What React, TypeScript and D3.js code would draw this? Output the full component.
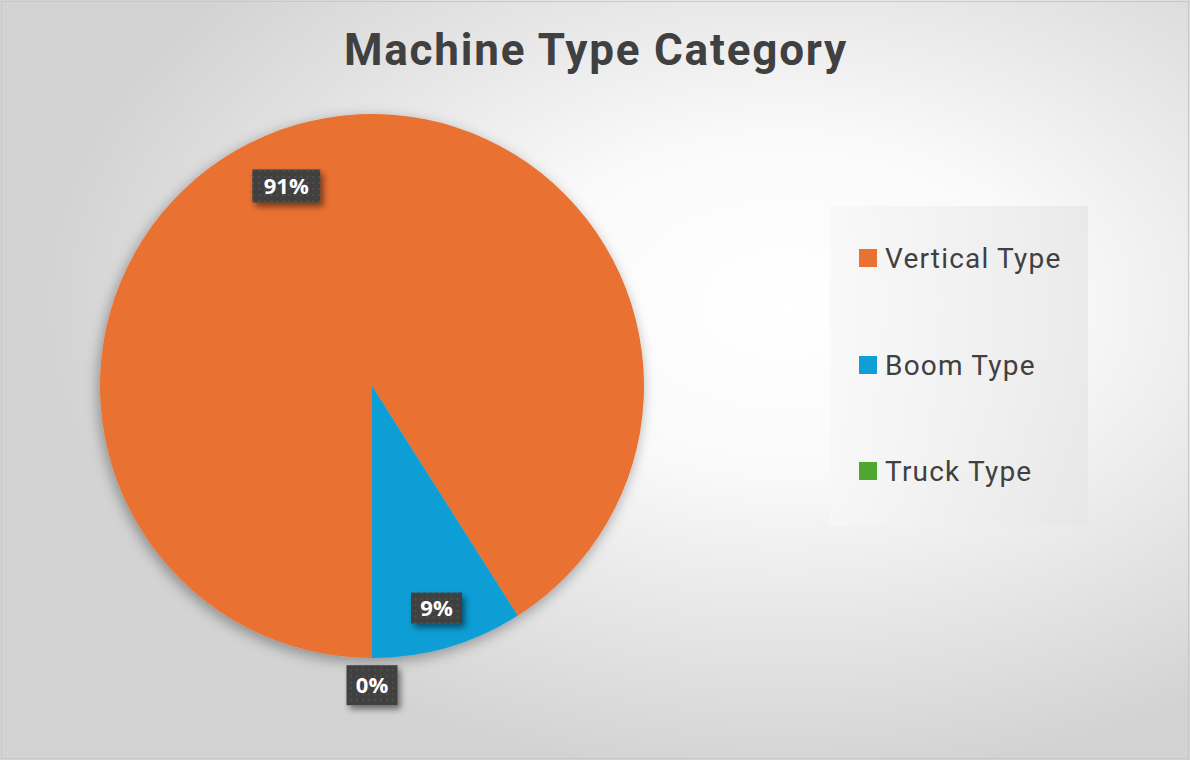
import React from 'react';
import { pie, arc, PieArcDatum } from 'd3';

const width = 1190;
const height = 760;

const categories = ['Vertical Type', 'Boom Type', 'Truck Type'];
const values = [91, 9, 0];
const colors = ['#E97132', '#0F9ED5', '#4EA72E'];

const cx = 372;
const cy = 386;
const radius = 272;

type Slice = PieArcDatum<number>;

const App = () => {
  const total = values.reduce((a, b) => a + b, 0);
  const arcs = pie<number>()
    .sort(null)
    .startAngle(Math.PI)
    .endAngle(Math.PI * 3)(values);

  const arcGen = arc<Slice>().innerRadius(0).outerRadius(radius);

  // label spots: inside for big slices, outside for the empty one
  const labelPos = (d: Slice, i: number) => {
    let a = (d.startAngle + d.endAngle) / 2;
    let r = radius * 0.85;
    if (d.value === 0) r = radius * 1.1;
    if (i === 0) {
      a -= (7 * Math.PI) / 180;
      r = radius * 0.8;
    }
    return [Math.sin(a) * r, -Math.cos(a) * r];
  };

  const legendY = [258, 365, 471];

  return (
    <svg
      width={width}
      height={height}
      style={{ position: 'absolute', left: 0, top: 0 }}
      fontFamily="Roboto, 'Open Sans', sans-serif"
    >
      <defs>
        <radialGradient id="bg" cx="0.66" cy="0.4" r="0.62">
          <stop offset="0" stopColor="#ffffff" />
          <stop offset="0.35" stopColor="#fafafa" />
          <stop offset="1" stopColor="#d3d3d3" />
        </radialGradient>
        <linearGradient id="legbg" x1="0" x2="1" y1="0" y2="0">
          <stop offset="0" stopColor="#f7f7f7" />
          <stop offset="1" stopColor="#e6e6e6" />
        </linearGradient>
        <filter id="pieShadow" x="-20%" y="-20%" width="140%" height="140%">
          <feGaussianBlur in="SourceAlpha" stdDeviation="7" />
          <feOffset dx="-2" dy="4" result="b" />
          <feComponentTransfer>
            <feFuncA type="linear" slope="0.35" />
          </feComponentTransfer>
          <feMerge>
            <feMergeNode />
            <feMergeNode in="SourceGraphic" />
          </feMerge>
        </filter>
        <filter id="boxShadow" x="-30%" y="-30%" width="160%" height="170%">
          <feGaussianBlur in="SourceAlpha" stdDeviation="3" />
          <feOffset dx="3" dy="4" result="b" />
          <feComponentTransfer>
            <feFuncA type="linear" slope="0.5" />
          </feComponentTransfer>
          <feMerge>
            <feMergeNode />
            <feMergeNode in="SourceGraphic" />
          </feMerge>
        </filter>
        <pattern id="dots" width="6" height="6" patternUnits="userSpaceOnUse">
          <rect width="6" height="6" fill="#404040" />
          <circle cx="3" cy="3" r="1" fill="#545454" />
        </pattern>
      </defs>

      <rect x={0} y={0} width={width} height={height} fill="url(#bg)" />
      <rect x={1.5} y={1.5} width={width - 3} height={height - 3} fill="none" stroke="#c8c8c8" />

      <text
        x={596}
        y={65}
        textAnchor="middle"
        fontSize={44}
        fontWeight="bold"
        letterSpacing={1.8}
        fill="#404040"
      >
        Machine Type Category
      </text>

      <g transform={`translate(${cx},${cy})`}>
        <g filter="url(#pieShadow)">
          {arcs.map((d, i) => (
            <path key={i} d={arcGen(d) || ''} fill={colors[i]} />
          ))}
        </g>
        {arcs.map((d, i) => {
          const [x, y] = labelPos(d, i);
          const txt = `${Math.round((d.value / total) * 100)}%`;
          const w = txt.length * 17 + 17;
          const h = d.value === 0 ? 40 : i === 0 ? 33 : 31;
          return (
            <g key={i} transform={`translate(${x},${y})`}>
              <rect
                x={-w / 2}
                y={-h / 2}
                width={w}
                height={h}
                fill="url(#dots)"
                filter="url(#boxShadow)"
              />
              <text
                y={8}
                textAnchor="middle"
                fontSize={22}
                fontWeight="bold"
                fontFamily="'Open Sans', sans-serif"
                fill="#ffffff"
              >
                {txt}
              </text>
            </g>
          );
        })}
      </g>

      <rect x={830} y={206} width={258} height={320} fill="url(#legbg)" opacity={0.75} />
      {categories.map((c, i) => (
        <g key={c}>
          <rect x={859} y={legendY[i] - 9} width={18} height={18} fill={colors[i]} />
          <text x={885} y={legendY[i] + 10} fontSize={28} letterSpacing={1.2} fill="#404040">
            {c}
          </text>
        </g>
      ))}
    </svg>
  );
};

export default App;
